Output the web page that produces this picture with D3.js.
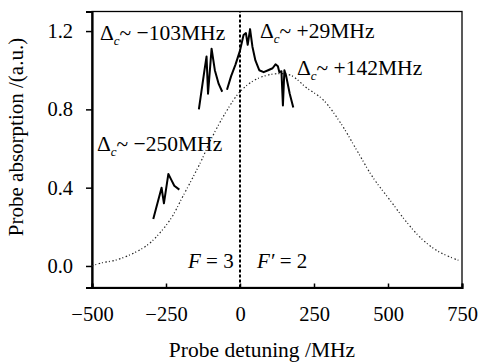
<!DOCTYPE html>
<html>
<head>
<meta charset="utf-8">
<script src="https://cdn.jsdelivr.net/npm/d3@7"></script>
<style>
  body { margin: 0; background: #fff; }
  svg text { font-family: "Liberation Serif", "Times New Roman", serif; fill: #000; }
</style>
</head>
<body>
<div id="chart"></div>
<script>
// axis ticks
const xTicks = [-500, -250, 0, 250, 500, 750];
const yTicks = [0, 0.4, 0.8, 1.2];

// Doppler background (dotted)
const dopplerX = [-500, -470, -420, -360, -310, -270, -230, -195, -160, -130, -100, -50, 0, 50, 110, 170, 225, 280, 340, 395, 450, 505, 565, 620, 675, 745];
const dopplerY = [0.0, 0.015, 0.03, 0.065, 0.11, 0.17, 0.25, 0.35, 0.45, 0.54, 0.64, 0.78, 0.89, 0.95, 0.98, 0.975, 0.91, 0.85, 0.73, 0.59, 0.45, 0.34, 0.22, 0.13, 0.07, 0.025];

// measured spectra, one per coupling detuning
const seg250X = [-293, -265, -257, -242, -232, -222, -205];
const seg250Y = [0.24, 0.40, 0.32, 0.47, 0.44, 0.41, 0.39];
const seg103X = [-139, -120, -113, -108, -96, -85, -72, -60];
const seg103Y = [0.80, 1.0, 1.07, 0.88, 1.11, 1.0, 0.93, 0.89];
const seg29X = [-44, -30, -15, 0, 12, 20, 26, 34, 42, 52, 65, 80, 95, 110, 120, 128, 133, 140, 145, 150, 156, 168, 180];
const seg29Y = [0.90, 0.97, 1.03, 1.10, 1.18, 1.19, 1.13, 1.21, 1.12, 1.05, 1.0, 0.99, 1.0, 1.01, 1.03, 1.02, 0.99, 0.995, 0.82, 1.0, 0.97, 0.88, 0.81];

const labels = ['\u2212103MHz', '\u2212250MHz', '+29MHz', '+142MHz'];

const width = 479, height = 362;
const svg = d3.select('#chart').append('svg')
  .attr('width', width).attr('height', height);

const x = d3.scaleLinear().domain([-500, 750]).range([92, 462]);
const y = d3.scaleLinear().domain([-0.11, 1.3]).range([287.5, 11.5]);

const zip = (a, b) => a.map((v, i) => [v, b[i]]);

// frame
svg.append('rect')
  .attr('x', 92).attr('y', 11.5).attr('width', 370).attr('height', 276)
  .attr('fill', 'none').attr('stroke', '#000').attr('stroke-width', 1.3);

// axes
const xAxis = svg.append('g').attr('transform', 'translate(0,287.5)')
  .call(d3.axisBottom(x).tickValues(xTicks).tickSize(-4).tickPadding(19));
const yAxis = svg.append('g').attr('transform', 'translate(92,0)')
  .call(d3.axisLeft(y).tickValues(yTicks).tickFormat(d3.format('.1f')).tickSize(6).tickPadding(13));
[xAxis, yAxis].forEach(g => {
  g.attr('font-family', null);
  g.select('.domain').attr('stroke-width', 2.2);
  g.selectAll('.tick line').attr('stroke-width', 1.5);
  g.selectAll('text').attr('font-size', 20.5);
});

// F = 3 / F' = 2 boundary
svg.append('line')
  .attr('x1', x(0)).attr('x2', x(0)).attr('y1', y(-0.11)).attr('y2', y(1.3))
  .attr('stroke', '#000').attr('stroke-width', 2).attr('stroke-dasharray', '3,2');

// Doppler profile
const smooth = d3.line().x(d => x(d[0])).y(d => y(d[1])).curve(d3.curveCatmullRom);
svg.append('path').datum(zip(dopplerX, dopplerY))
  .attr('d', smooth)
  .attr('fill', 'none').attr('stroke', '#222').attr('stroke-width', 1.2)
  .attr('stroke-dasharray', '1.5,2,1,2.5');

const lin = d3.line().x(d => x(d[0])).y(d => y(d[1]));
[[seg250X, seg250Y], [seg103X, seg103Y], [seg29X, seg29Y]].forEach(([a, b]) => {
  svg.append('path').datum(zip(a, b))
    .attr('d', lin)
    .attr('fill', 'none').attr('stroke', '#000').attr('stroke-width', 2)
    .attr('stroke-linejoin', 'round');
});

// annotations
const labPos = [[100, 40], [97, 151], [260, 38], [297, 75]];
labels.forEach((t, i) => {
  const txt = svg.append('text').attr('x', labPos[i][0]).attr('y', labPos[i][1]).attr('font-size', 21.5);
  txt.append('tspan').text('\u0394');
  txt.append('tspan').attr('font-style', 'italic').attr('font-size', 13).attr('dy', 5).text('c');
  txt.append('tspan').attr('dy', -5).text('~ ' + t);
});

const f1 = svg.append('text').attr('x', 188).attr('y', 268).attr('font-size', 21);
f1.append('tspan').attr('font-style', 'italic').text('F');
f1.append('tspan').text(' = 3');
const f2 = svg.append('text').attr('x', 257).attr('y', 268).attr('font-size', 21);
f2.append('tspan').attr('font-style', 'italic').text('F\u2032');
f2.append('tspan').text(' = 2');

// axis titles
svg.append('text').attr('x', 262).attr('y', 357).attr('text-anchor', 'middle')
  .attr('font-size', 21.5).text('Probe detuning /MHz');
svg.append('text').attr('transform', 'translate(23,137) rotate(-90)').attr('text-anchor', 'middle')
  .attr('font-size', 21).text('Probe absorption /(a.u.)');
</script>
</body>
</html>
